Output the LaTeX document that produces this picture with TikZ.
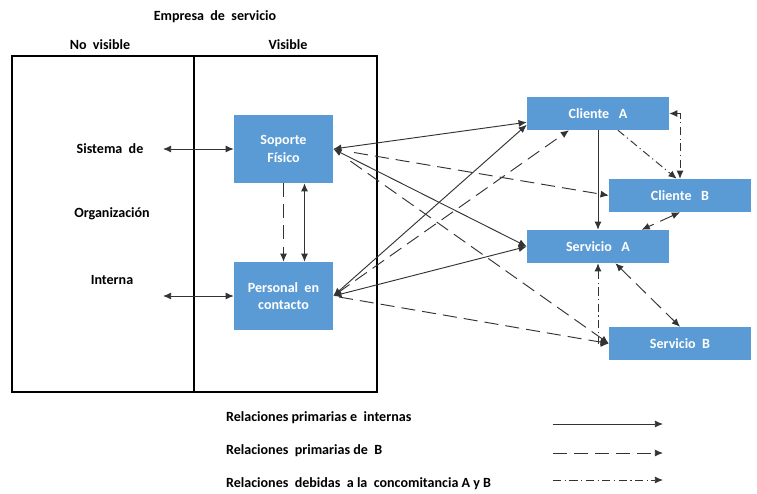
\documentclass[tikz,border=0pt]{standalone}
\usepackage{fontspec}
\setmainfont{Carlito}
\usetikzlibrary{arrows.meta}
\definecolor{azul}{HTML}{5B9BD5}
\definecolor{linea}{HTML}{333333}

\begin{document}
\begin{tikzpicture}[x=0.03cm,y=-0.03cm,
    texto/.style={font=\fontsize{12}{15}\selectfont\bfseries},
    caja/.style={texto, fill=azul, text=white, align=center, inner sep=0pt,
                 minimum width=4.26cm, minimum height=0.99cm},
    cajaalta/.style={caja, minimum width=2.97cm, minimum height=2.04cm},
    marco/.style={line width=2pt},
    flecha/.style={draw=linea, line width=0.8pt, -{Latex[length=7pt,width=6pt]}},
    doble/.style={flecha, {Latex[length=7pt,width=6pt]}-{Latex[length=7pt,width=6pt]}},
    raya/.style={dash pattern=on 12pt off 6pt},
    rayapunto/.style={dash pattern=on 7pt off 3pt on 1pt off 3pt}]
    \useasboundingbox (0,0) rectangle (757,493);

    %titulos
    \node[texto] (emp) at (215,17) {Empresa\ \ de\ \ servicio};
    \node[texto] (nov) at (100,45) {No\ \ visible};
    \node[texto] (vis) at (288,45) {Visible};

    %marco
    \draw[marco] (12,56) rectangle (377,392);
    \draw[marco] (194,56) -- (194,392);

    %textos internos
    \node[texto] (sis) at (110,149) {Sistema\ \ de};
    \node[texto] (org) at (112,214) {Organización};
    \node[texto] (int) at (112,280) {Interna};
    \coordinate (sisl) at (163,149);
    \coordinate (intl) at (163,296);

    %cajas
    \node[cajaalta] (sop) at (283.5,149) {Soporte\\Físico};
    \node[cajaalta] (per) at (283.5,296) {Personal\ \ en\\contacto};
    \node[caja] (cliA) at (598,113.5) {Cliente\ \ \ A};
    \node[caja] (cliB) at (680,195.5) {Cliente\ \ \ B};
    \node[caja] (srvA) at (598,246.5) {Servicio\ \ \ A};
    \node[caja] (srvB) at (680,343.5) {Servicio\ \ B};

    %relaciones internas
    \draw[doble] (sisl) -- (sop.west);
    \draw[doble] (intl) -- (per.west);
    \draw[flecha, raya] (sop.south) -- (per.north);
    \draw[doble] ([xshift=0.63cm]sop.south) -- ([xshift=0.63cm]per.north);

    %relaciones primarias
    \draw[doble] (sop.east) -- (cliA.187);
    \draw[doble] (sop.east) -- (srvA.west);
    \draw[doble] (per.east) -- (cliA.189);
    \draw[doble] (per.east) -- (srvA.west);
    \draw[flecha] (cliA.south) -- (srvA.north);

    %relaciones de B
    \draw[flecha, raya, shorten <=18pt] (sop.east) -- (cliB.west);
    \draw[flecha, raya, shorten <=18pt] (sop.east) -- (srvB.west);
    \draw[flecha, raya, shorten <=5pt] (per.east) -- (cliA.210);
    \draw[flecha, raya, shorten <=5pt] (per.east) -- (srvB.west);
    \draw[doble, raya] (cliB.south) -- (srvA.21);
    \draw[doble, raya] (srvA.-44) -- (srvB.north);

    %concomitancia A y B
    \draw[doble, rayapunto] (cliA.east) -| (cliB.north);
    \draw[flecha, rayapunto] (cliA.-40) -- ([xshift=-0.1cm]cliB.north);
    \draw[doble, rayapunto] (srvA.south) |- (srvB.west);

    %leyenda
    \node[texto, anchor=west] (ley1) at (222,418) {Relaciones primarias e\ \ internas};
    \node[texto, anchor=west] (ley2) at (222,451) {Relaciones\ \ primarias de\ \ B};
    \node[texto, anchor=west] (ley3) at (222,484) {Relaciones\ \ debidas\ \ a la\ \ concomitancia A y B};
    \coordinate (l1) at (553,424);
    \coordinate (l2) at (553,453);
    \coordinate (l3) at (553,480);
    \draw[flecha] (l1) -- ++(110,0);
    \draw[flecha, raya] (l2) -- ++(110,0);
    \draw[flecha, rayapunto] (l3) -- ++(110,0);
\end{tikzpicture}
\end{document}
